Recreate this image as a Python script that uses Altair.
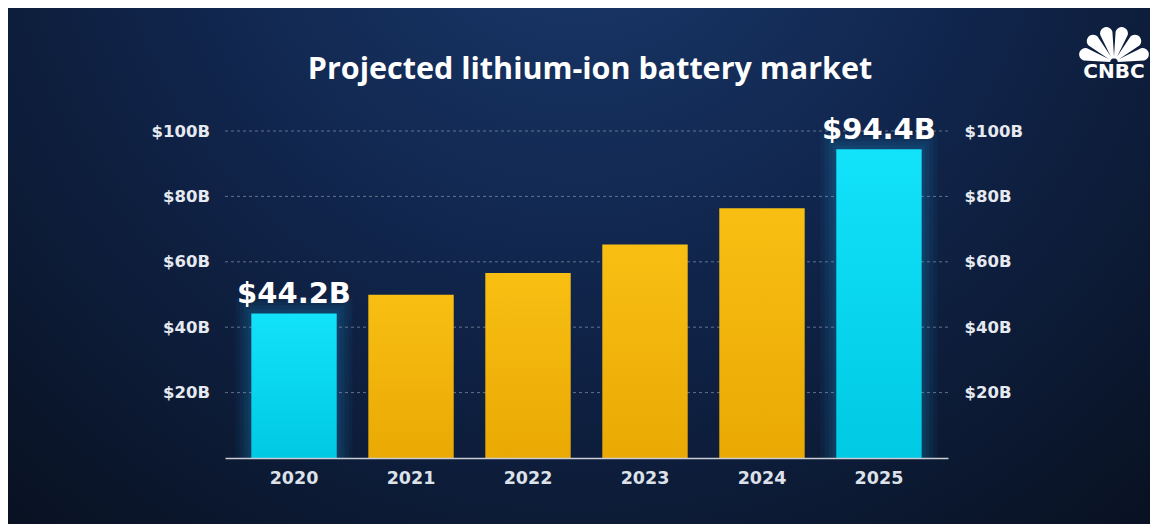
import math
import altair as alt
import pandas as pd

# ---- data ----
years = ["2020", "2021", "2022", "2023", "2024", "2025"]
values = [44.2, 49.9, 56.6, 65.3, 76.4, 94.4]
highlight = [True, False, False, False, False, True]
value_labels = ["$44.2B", "", "", "", "", "$94.4B"]
tick_values = [20, 40, 60, 80, 100]
title_text = "Projected lithium-ion battery market"
logo_text = "CNBC"

W, H = 723, 327
PAD = {"left": 217, "top": 123, "right": 202, "bottom": 66}

df = pd.DataFrame({"year": years, "value": values, "hl": highlight, "label": value_labels})
grid_df = pd.DataFrame({"tick": tick_values})
one = pd.DataFrame({"k": [0]})

LABEL_FONT = "DejaVu Sans"
LABEL_COLOR = "#e6eaf0"


def yscale():
    return alt.Scale(domain=[0, 100], nice=False, zero=True)


x_enc = alt.X(
    "year:N",
    sort=years,
    scale=alt.Scale(paddingInner=0.27, paddingOuter=0.225),
    axis=alt.Axis(
        title=None, labelAngle=0, ticks=False,
        domainColor="#c9ced6", domainWidth=1.5,
        labelColor="#dde2ea", labelFont=LABEL_FONT, labelFontSize=17.5,
        labelFontWeight="bold", labelPadding=11, zindex=1,
    ),
)

label_expr = "'$' + datum.value + 'B'"

# background
bg_fill = alt.RadialGradient(
    gradient="radial",
    stops=[
        alt.GradientStop(offset=0, color="#1a3a6e"),
        alt.GradientStop(offset=0.45, color="#10244a"),
        alt.GradientStop(offset=1, color="#070d18"),
    ],
    x1=0.5, y1=0.15, x2=0.5, y2=0.15, r1=0, r2=0.85,
)
bg = alt.Chart(one).mark_rect(fill=bg_fill).encode(
    x=alt.value(-PAD["left"]), x2=alt.value(W + PAD["right"]),
    y=alt.value(-PAD["top"]), y2=alt.value(H + PAD["bottom"]),
)

# glow around highlighted bars
glows = []
for k, (sz, op) in enumerate([(117, 0.05), (109, 0.06), (101, 0.07), (93, 0.08)]):
    g = alt.Chart(df).transform_filter("datum.hl").transform_calculate(
        glow=f"datum.value + {1.2 * (4 - k):.2f}"
    ).mark_bar(size=sz, color="#1aa8e8", opacity=op).encode(
        x=x_enc, y=alt.Y("glow:Q", scale=yscale(), axis=None)
    )
    glows.append(g)

# gridlines + right axis
grid = alt.Chart(grid_df).mark_rule(strokeDash=[3, 3], color="#8f9db3", strokeWidth=1, opacity=0.65).encode(
    y=alt.Y("tick:Q", scale=yscale(), axis=alt.Axis(
        orient="right", values=tick_values, labelExpr=label_expr, ticks=False, domain=False,
        grid=False, labelPadding=16, zindex=1, title=None,
        labelColor=LABEL_COLOR, labelFont=LABEL_FONT, labelFontSize=16.5, labelFontWeight="bold",
    ))
)

gold_fill = alt.LinearGradient(
    gradient="linear",
    stops=[alt.GradientStop(offset=0, color="#f8bf12"), alt.GradientStop(offset=1, color="#eaa904")],
    x1=0, y1=0, x2=0, y2=1,
)
cyan_fill = alt.LinearGradient(
    gradient="linear",
    stops=[alt.GradientStop(offset=0, color="#12e2fa"), alt.GradientStop(offset=1, color="#00c9e3")],
    x1=0, y1=0, x2=0, y2=1,
)

gold = alt.Chart(df).transform_filter("!datum.hl").mark_bar(fill=gold_fill).encode(
    x=x_enc,
    y=alt.Y("value:Q", scale=yscale(), axis=alt.Axis(
        orient="left", values=tick_values, labelExpr=label_expr, ticks=False, domain=False,
        grid=False, labelPadding=15.5, zindex=1, title=None,
        labelColor=LABEL_COLOR, labelFont=LABEL_FONT, labelFontSize=16.5, labelFontWeight="bold",
    )),
)
cyan = alt.Chart(df).transform_filter("datum.hl").mark_bar(fill=cyan_fill).encode(
    x=x_enc, y=alt.Y("value:Q", scale=yscale(), axis=None)
)

vlabels = alt.Chart(df).transform_filter("datum.hl").mark_text(
    font=LABEL_FONT, fontWeight="bold", fontSize=29, color="white", baseline="alphabetic", dy=-10
).encode(x=x_enc, y=alt.Y("value:Q", scale=yscale(), axis=None), text="label:N")

title = alt.Chart(one).mark_text(
    text=title_text, font="Open Sans", fontWeight="bold", fontSize=30.5, color="white",
    align="center", baseline="alphabetic",
).encode(x=alt.value(365), y=alt.value(-52))


# CNBC peacock (decoration)
def peacock_path():
    parts = []
    for a in [-75, -45, -15, 15, 45, 75]:
        r = math.radians(a)
        d = (math.sin(r), -math.cos(r))
        p = (math.cos(r), math.sin(r))
        L, w, b, bw = 0.97, 0.17, 0.1, 0.03
        pts = [(d[0] * b + p[0] * bw, d[1] * b + p[1] * bw)]
        C = (d[0] * (L - w), d[1] * (L - w))
        for i in range(13):
            t = math.pi * i / 12
            vx = math.cos(t) * p[0] + math.sin(t) * d[0]
            vy = math.cos(t) * p[1] + math.sin(t) * d[1]
            pts.append((C[0] + w * vx, C[1] + w * vy))
        pts.append((d[0] * b - p[0] * bw, d[1] * b - p[1] * bw))
        parts.append("M" + " L".join(f"{x:.3f},{y:.3f}" for x, y in pts) + " Z")
    return " ".join(parts)


logo = alt.Chart(one).mark_point(
    shape=peacock_path(), filled=True, fill="white", size=5476, opacity=1, strokeWidth=0
).encode(x=alt.value(889), y=alt.value(-69))
logo_t = alt.Chart(one).mark_text(
    text=logo_text, font="DejaVu Sans", fontWeight="bold", fontSize=20, color="white",
    align="center", baseline="alphabetic",
).encode(x=alt.value(889), y=alt.value(-53))

chart = alt.layer(
    bg, *glows, grid, gold, cyan, vlabels, title, logo, logo_t
).resolve_scale(y="independent").properties(
    width=W, height=H,
    autosize=alt.AutoSizeParams(type="none"),
    padding=PAD,
).configure(background="#0a1528").configure_view(stroke=None)

chart.save("out.html", embed_options={"renderer": "svg", "actions": False})
